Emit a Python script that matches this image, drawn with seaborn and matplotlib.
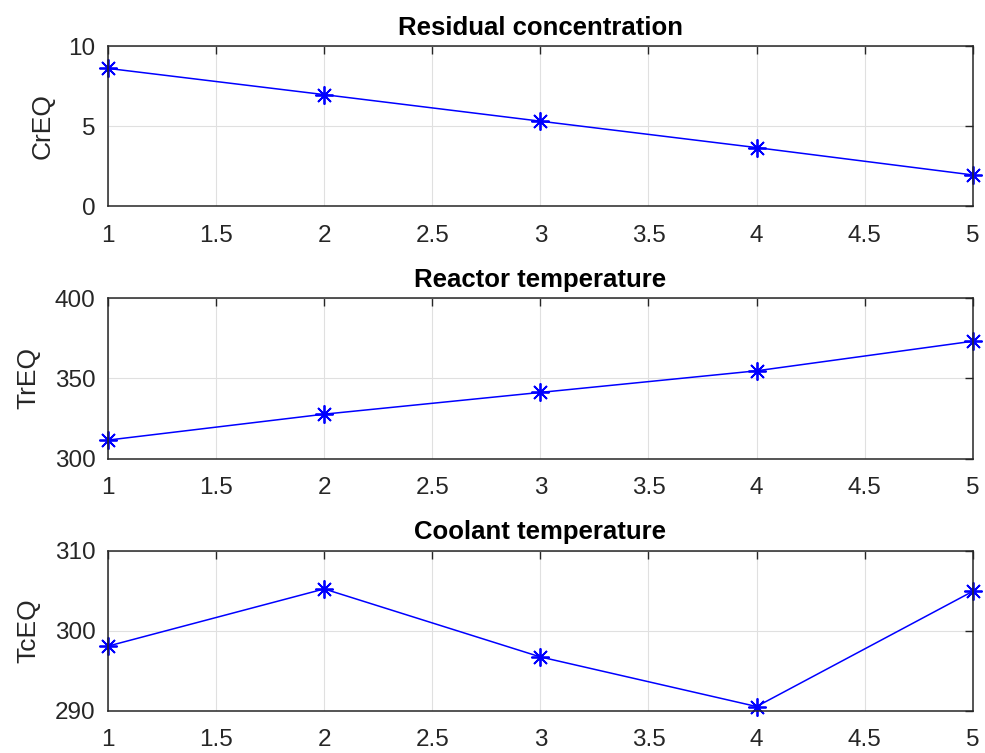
import numpy as np
import pandas as pd
import matplotlib
matplotlib.use("Agg")
import matplotlib.pyplot as plt
import seaborn as sns

# data
steps = [1, 2, 3, 4, 5]
cr_eq = [8.63, 6.99, 5.33, 3.68, 1.97]
tr_eq = [311.5, 327.7, 341.3, 354.8, 373.3]
tc_eq = [298.05, 305.2, 296.7, 290.5, 304.9]

titles = ["Residual concentration", "Reactor temperature", "Coolant temperature"]
ylabels = ["CrEQ", "TrEQ", "TcEQ"]
ylims = [(0, 10), (300, 400), (290, 310)]
yticks = [[0, 5, 10], [300, 350, 400], [290, 300, 310]]
xticks = [1, 1.5, 2, 2.5, 3, 3.5, 4, 4.5, 5]
xticklabels = ["1", "1.5", "2", "2.5", "3", "3.5", "4", "4.5", "5"]

sns.set_style("white")
plt.rcParams['font.family'] = ['Liberation Sans', 'DejaVu Sans']

fig = plt.figure(figsize=(9.85, 7.53), dpi=100)
bottoms = [0.7258, 0.3911, 0.0564]
edge = '#262626'

for i, (vals, ttl, yl, lim, yt) in enumerate(zip([cr_eq, tr_eq, tc_eq], titles, ylabels, ylims, yticks)):
    ax = fig.add_axes([0.1096, bottoms[i], 0.878, 0.2125])
    df = pd.DataFrame({"step": steps, "value": vals})
    sns.lineplot(data=df, x="step", y="value", ax=ax, color=(0, 0, 1), linewidth=1.1,
                 marker=(8, 2, 0), markersize=13, markeredgewidth=1.3,
                 markeredgecolor=(0, 0, 1), clip_on=False)
    ax.set_xlim(1, 5)
    ax.set_ylim(*lim)
    ax.set_xticks(xticks)
    ax.set_xticklabels(xticklabels)
    ax.set_yticks(yt)
    ax.grid(True, color='#e0e0e0', linewidth=0.8)
    ax.set_axisbelow(True)
    ax.tick_params(direction='in', top=True, right=True, length=6, width=1,
                   color=edge, labelsize=17.5, labelcolor=edge, pad=9)
    ax.tick_params(axis='x', pad=13)
    for s in ax.spines.values():
        s.set_color(edge)
        s.set_linewidth(1.1)
        s.set_visible(True)
    ax.set_xlabel("")
    ax.set_ylabel(yl, fontsize=19, color=edge, labelpad=10)
    ax.set_title(ttl, fontsize=18.5, fontweight='bold', color='black', pad=8)

fig.savefig("out.png", dpi=100)
